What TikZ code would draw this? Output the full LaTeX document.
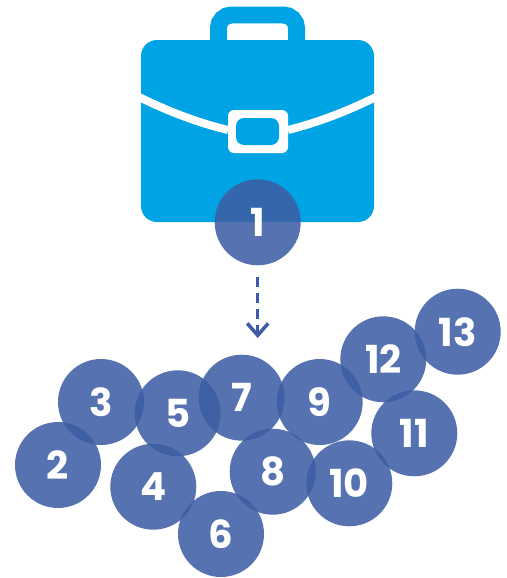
\documentclass[tikz,border=0pt]{standalone}
\usepackage{fontspec}
\setmainfont{Poppins}
\usetikzlibrary{arrows.meta}
\definecolor{colCase}{HTML}{00A3E4}
\definecolor{colDot}{HTML}{3D5DA4}
\definecolor{colArrow}{HTML}{3F5AA8}
\tikzset{
  numdot/.style={circle,fill=colDot,fill opacity=.87,text opacity=1,text=white,
    minimum size=1.72cm,inner sep=0pt,font=\fontsize{22}{22}\selectfont\bfseries},
  strap/.style={draw=white,line width=.16cm},
  darr/.style={-{Straight Barb[length=2.4mm,width=4.2mm,line width=.07cm]},line width=.07cm,
    draw=colArrow,dash pattern=on 2mm off 1.2mm},
}
\begin{document}
\begin{tikzpicture}[x=.02cm,y=-.02cm]
      \useasboundingbox (0,0) rectangle (507,578);
      % briefcase
      \draw[colCase,line width=.34cm,rounded corners=.26cm] (218.5,44) -- (218.5,15) -- (296.5,15) -- (296.5,44);
      \fill[colCase,rounded corners=.32cm] (141,40) rectangle (374,222);
      \draw[strap] (135,95) .. controls (165,110) and (195,122) .. (228,130);
      \draw[strap] (380,95) .. controls (350,110) and (320,122) .. (288,130);
      \fill[white,rounded corners=.12cm] (228,110) rectangle (288,153);
      \fill[colCase,rounded corners=.16cm] (236,118) rectangle (279,145);
      % dots
      \node[numdot] (n1) at (257.7,222.3) {1};
      \node[numdot] (n2) at (58,465) {2};
      \node[numdot] (n3) at (101,402) {3};
      \node[numdot] (n4) at (153.3,486.7) {4};
      \node[numdot] (n5) at (177.7,413.3) {5};
      \node[numdot] (n6) at (221,534) {6};
      \node[numdot] (n7) at (241.7,397.7) {7};
      \node[numdot] (n8) at (272.7,471.7) {8};
      \node[numdot] (n9) at (319.7,402) {9};
      \node[numdot] (n10) at (349.3,483.3) {10};
      \node[numdot] (n11) at (414.3,433.3) {11};
      \node[numdot] (n12) at (383.3,359.3) {12};
      \node[numdot] (n13) at (457.7,331.7) {13};
      \coordinate (arrowend) at (257.7,338);
      \draw[darr,shorten <=.22cm] (n1.south) -- (arrowend);
    \end{tikzpicture}
\end{document}
